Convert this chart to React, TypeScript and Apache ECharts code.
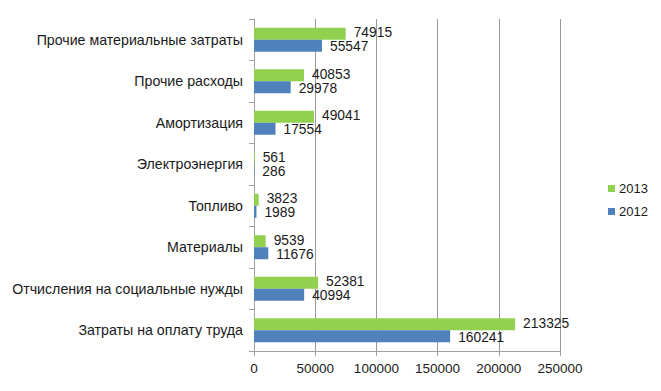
import React, { useEffect, useRef } from "react";
import * as echarts from "echarts";

const categories = [
  "Затраты на оплату труда",
  "Отчисления на социальные нужды",
  "Материалы",
  "Топливо",
  "Электроэнергия",
  "Амортизация",
  "Прочие расходы",
  "Прочие материальные затраты",
];
const values2012 = [160241, 40994, 11676, 1989, 286, 17554, 29978, 55547];
const values2013 = [213325, 52381, 9539, 3823, 561, 49041, 40853, 74915];
const xTicks = { min: 0, max: 250000, interval: 50000 };

const FONT = "Liberation Sans";

export default function App() {
  const ref = useRef<HTMLDivElement>(null);
  useEffect(() => {
    const chart = echarts.init(ref.current!, null, { renderer: "svg" });
    const label = (dy: number) => ({
      show: true,
      position: "right",
      distance: 8,
      offset: [0, dy],
      color: "#1a1a1a",
      fontFamily: FONT,
      fontSize: 13.8,
      lineHeight: 12,
    });
    chart.setOption({
      animation: false,
      textStyle: { fontFamily: FONT },
      grid: { left: 254, right: 101, top: 19, bottom: 40, containLabel: false },
      legend: {
        orient: "vertical",
        left: 603,
        top: 177,
        itemWidth: 7,
        itemHeight: 7,
        itemGap: 10,
        icon: "rect",
        data: ["2013", "2012"],
        textStyle: { fontFamily: FONT, fontSize: 13, color: "#1a1a1a", padding: [0, 0, 0, -1] },
      },
      xAxis: {
        type: "value",
        min: xTicks.min,
        max: xTicks.max,
        interval: xTicks.interval,
        axisLine: { show: true, lineStyle: { color: "#a0a0a0" } },
        axisTick: { show: true, length: 5, lineStyle: { color: "#a0a0a0" } },
        splitLine: { show: true, lineStyle: { color: "#999999", width: 1 } },
        axisLabel: {
          color: "#1a1a1a",
          fontFamily: FONT,
          fontSize: 13.5,
          margin: 10,
          formatter: (v: number) => String(v),
        },
      },
      yAxis: {
        type: "category",
        data: categories,
        axisLine: { show: true, lineStyle: { color: "#a0a0a0" } },
        axisTick: { show: true, length: 5, lineStyle: { color: "#a0a0a0" } },
        axisLabel: { color: "#1a1a1a", fontFamily: FONT, fontSize: 14.2, margin: 11 },
      },
      series: [
        {
          name: "2013",
          type: "bar",
          data: values2013,
          itemStyle: { color: "#92d050" },
          barWidth: 12,
          barGap: "0%",
          label: label(-1),
        },
        {
          name: "2012",
          type: "bar",
          data: values2012,
          itemStyle: { color: "#4f81bd" },
          barWidth: 12,
          barGap: "0%",
          label: label(1),
        },
      ],
    });
    return () => chart.dispose();
  }, []);
  return <div ref={ref} style={{ width: 661, height: 391, margin: -8 }} />;
}
